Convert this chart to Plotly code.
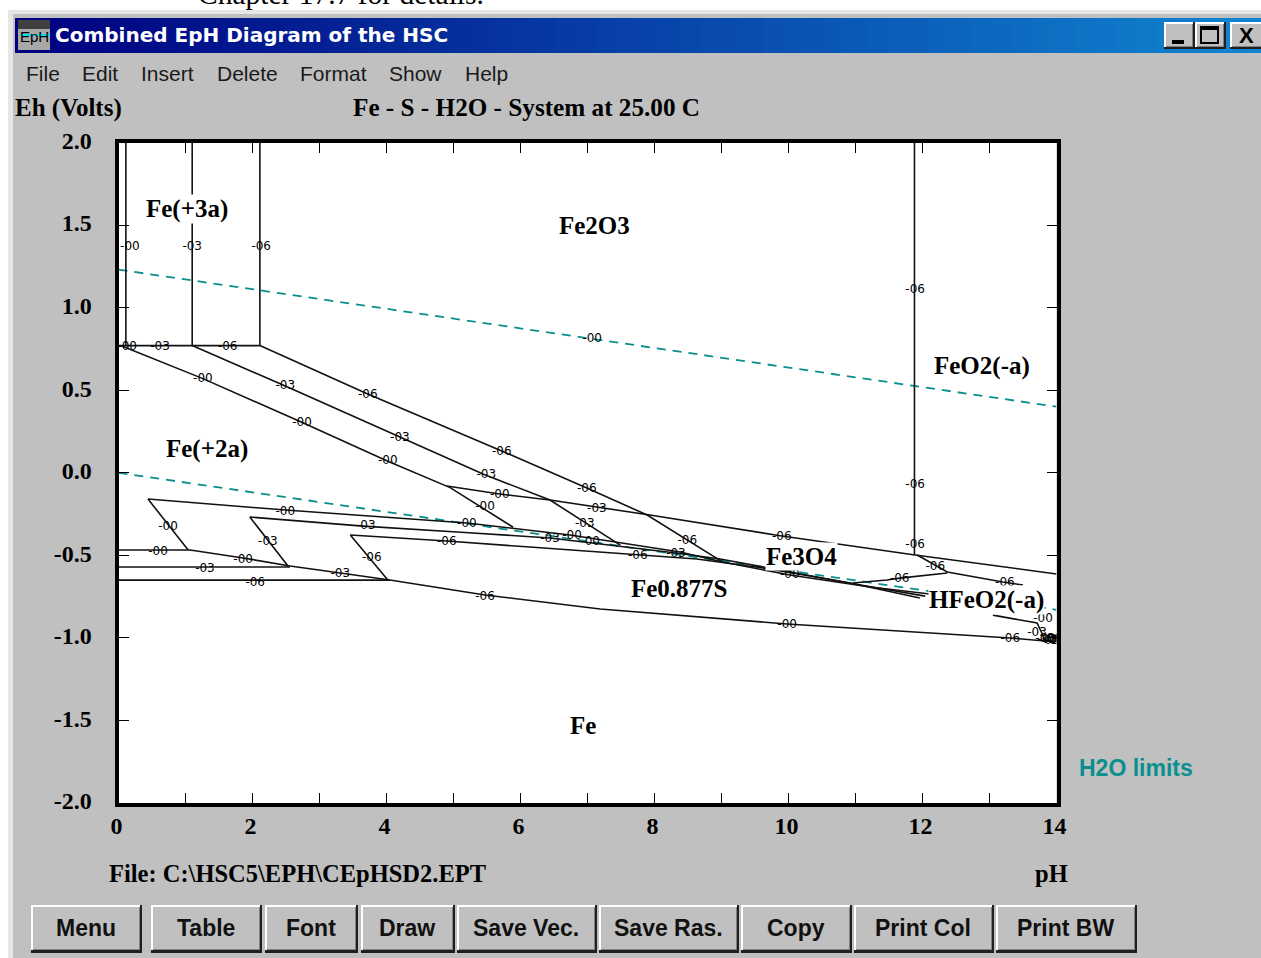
import plotly.graph_objects as go

# ---------- data (pH, Eh in volts) ----------
ph_ticks = list(range(0, 15))
ph_ticktext = ["0", "", "2", "", "4", "", "6", "", "8", "", "10", "", "12", "", "14"]
eh_ticks = [2.0, 1.5, 1.0, 0.5, 0.0, -0.5, -1.0, -1.5, -2.0]
eh_ticktext = ["2.0", "1.5", "1.0", "0.5", "0.0", "-0.5", "-1.0", "-1.5", "-2.0"]

water_upper_ph = [0, 14]
water_upper_eh = [1.23, 0.40]
water_lower_ph = [0, 14]
water_lower_eh = [0.0, -0.83]

v1_ph = [0.11, 0.11]; v1_eh = [2.0, 0.77]
v2_ph = [1.10, 1.10]; v2_eh = [2.0, 0.77]
v3_ph = [2.11, 2.11]; v3_eh = [2.0, 0.77]
v4_ph = [11.88, 11.88]; v4_eh = [2.0, -0.498]
h_top_ph = [0, 2.11]; h_top_eh = [0.77, 0.77]

d1_ph = [0.03, 1.26, 2.71, 4.02, 4.95, 5.89]
d1_eh = [0.77, 0.57, 0.31, 0.07, -0.09, -0.33]
d2_ph = [1.10, 2.49, 4.20, 5.44, 6.44, 7.49]
d2_eh = [0.77, 0.525, 0.217, -0.008, -0.165, -0.438]
d3_ph = [2.11, 3.72, 5.72, 6.99, 7.89, 8.50, 9.02]
d3_eh = [0.77, 0.477, 0.132, -0.092, -0.256, -0.408, -0.541]

a_ph = [0.44, 2.49, 5.20, 6.74, 8.38, 9.02, 10.02, 11.22, 12.11]
a_eh = [-0.159, -0.226, -0.304, -0.377, -0.480, -0.541, -0.619, -0.692, -0.734]
b_ph = [1.96, 3.65, 5.17, 6.44, 8.32, 8.98, 11.07, 12.04]
b_eh = [-0.268, -0.323, -0.362, -0.395, -0.486, -0.522, -0.680, -0.747]
c_ph = [3.46, 4.90, 6.14, 7.75, 8.63, 9.62, 10.92, 11.96]
c_eh = [-0.377, -0.413, -0.450, -0.498, -0.522, -0.577, -0.668, -0.759]

upper_ph = [4.90, 5.69, 6.44, 7.93, 9.90, 11.89, 14.0]
upper_eh = [-0.080, -0.129, -0.165, -0.256, -0.383, -0.498, -0.613]

lower_ph = [0, 1.07, 1.86, 2.56, 3.31, 4.05, 5.47, 7.19, 9.98, 13.31, 13.83, 14.0]
lower_eh = [-0.468, -0.468, -0.516, -0.565, -0.607, -0.650, -0.740, -0.825, -0.916, -1.001, -1.019, -1.02]
h2_ph = [0, 2.56]; h2_eh = [-0.571, -0.571]
h3_ph = [0, 4.05]; h3_eh = [-0.650, -0.650]

s1_ph = [0.44, 1.04]; s1_eh = [-0.159, -0.468]
s2_ph = [1.96, 2.53]; s2_eh = [-0.268, -0.565]
s3_ph = [3.46, 4.02]; s3_eh = [-0.377, -0.650]

r1_ph = [11.92, 12.37, 13.20, 13.50]; r1_eh = [-0.498, -0.601, -0.662, -0.680]
r2_ph = [10.96, 11.47, 11.66, 12.37]; r2_eh = [-0.668, -0.650, -0.638, -0.607]
r3_ph = [13.05, 13.71, 13.83]; r3_eh = [-0.862, -0.910, -1.013]

solid_lines = [
    (v1_ph, v1_eh), (v2_ph, v2_eh), (v3_ph, v3_eh), (v4_ph, v4_eh), (h_top_ph, h_top_eh),
    (d1_ph, d1_eh), (d2_ph, d2_eh), (d3_ph, d3_eh), (a_ph, a_eh), (b_ph, b_eh), (c_ph, c_eh),
    (upper_ph, upper_eh), (lower_ph, lower_eh), (h2_ph, h2_eh), (h3_ph, h3_eh),
    (s1_ph, s1_eh), (s2_ph, s2_eh), (s3_ph, s3_eh), (r1_ph, r1_eh), (r2_ph, r2_eh), (r3_ph, r3_eh),
]

conc00_ph = [0.17, 7.07, 0.13, 1.26, 2.74, 4.02, 0.74, 2.49, 0.59, 1.86, 5.20, 5.69, 5.47, 6.77, 7.04, 10.02, 9.98, 13.80, 13.83, 13.94]
conc00_eh = [1.37, 0.81, 0.76, 0.565, 0.30, 0.07, -0.33, -0.235, -0.48, -0.53, -0.31, -0.135, -0.21, -0.385, -0.42, -0.62, -0.925, -0.885, -1.005, -1.015]
conc03_ph = [1.10, 0.62, 2.49, 4.20, 5.49, 2.23, 3.69, 1.29, 3.31, 6.44, 7.14, 6.96, 8.32, 13.71, 13.90, 13.86]
conc03_eh = [1.37, 0.76, 0.525, 0.21, -0.015, -0.42, -0.325, -0.58, -0.615, -0.40, -0.22, -0.31, -0.495, -0.97, -1.02, -1.01]
conc06_ph = [2.13, 11.89, 11.89, 11.89, 1.63, 3.72, 5.72, 6.99, 3.78, 4.90, 2.04, 5.47, 7.75, 9.90, 8.49, 11.66, 12.19, 13.23, 13.31, 13.93, 13.97]
conc06_eh = [1.37, 1.105, -0.075, -0.44, 0.76, 0.47, 0.125, -0.10, -0.515, -0.42, -0.665, -0.75, -0.505, -0.39, -0.415, -0.645, -0.57, -0.67, -1.008, -1.008, -1.02]

species = ["Fe(+3a)", "Fe2O3", "FeO2(-a)", "Fe(+2a)", "Fe3O4", "Fe0.877S", "HFeO2(-a)", "Fe"]
species_ph = [1.02, 7.10, 12.89, 1.32, 10.19, 8.38, 12.96, 6.93]
species_eh = [1.597, 1.495, 0.647, 0.144, -0.510, -0.698, -0.771, -1.529]

menu_items = ["File", "Edit", "Insert", "Delete", "Format", "Show", "Help"]
button_labels = ["Menu", "Table", "Font", "Draw", "Save Vec.", "Save Ras.", "Copy", "Print Col", "Print BW"]

# ---------- style / layout ----------
W, H = 1261, 958
GREY = "#c0c0c0"
TEAL = "#0a8f8f"
SERIF = "Liberation Serif"
SANS = "Liberation Sans"
def X(p): return p / W
def Y(p): return 1 - p / H

shapes, annos = [], []

def rect(x0, y0, x1, y1, fill, line=None, lw=0):
    shapes.append(dict(type="rect", xref="paper", yref="paper", x0=X(x0), x1=X(x1), y0=Y(y0), y1=Y(y1),
                       fillcolor=fill, line=dict(color=line or fill, width=lw), layer="below"))

def txt(x, y, s, size, color="black", family=SERIF, bold=False, xanchor="center", yanchor="middle"):
    annos.append(dict(xref="paper", yref="paper", x=X(x), y=Y(y), text=f"<b>{s}</b>" if bold else s,
                      showarrow=False, xanchor=xanchor, yanchor=yanchor,
                      font=dict(family=family, size=size, color=color), borderpad=0, borderwidth=0))

def raised(x0, y0, x1, y1, sx=2, sy=3):
    rect(x0, y0, x1, y1, "#202020")
    rect(x0, y0, x1 - sx, y1 - sy, "#ffffff")
    rect(x0 + 2, y0 + 2, x1 - sx, y1 - sy, "#808080")
    rect(x0 + 2, y0 + 2, x1 - sx - 1, y1 - sy - 1, GREY)

# outer page: white strips and light window border
rect(0, 0, W, 10, "#ffffff")
rect(0, 0, 8, H, "#ffffff")
rect(8, 10, W, 14, "#e6e6e6")
rect(8, 10, 13, H, "#e6e6e6")

# title bar gradient
n = 60
c0, c1 = (0, 0, 128), (16, 132, 208)
for i in range(n):
    t = i / (n - 1)
    col = "rgb(%d,%d,%d)" % tuple(round(a + (b - a) * t) for a, b in zip(c0, c1))
    rect(15 + (W - 15) * i / n, 18, 15 + (W - 15) * (i + 1) / n + 1, 53, col)

# icon
rect(18, 20, 50, 50, "#a8a8a8")
rect(18, 20, 50, 29, "#404040")
txt(34, 36, "EpH", 15, family=SANS, color="black")
rect(20, 34, 50, 36, "#00e0f0")

# window buttons
raised(1164, 22, 1195, 49, 2, 2)
rect(1172, 40, 1184, 44, "#000000")
raised(1195, 22, 1226, 49, 2, 2)
shapes.append(dict(type="rect", xref="paper", yref="paper", x0=X(1201), x1=X(1218), y0=Y(27), y1=Y(43),
                   fillcolor=GREY, line=dict(color="black", width=2), layer="below"))
rect(1201, 26, 1218, 30, "#000000")
raised(1230, 22, 1264, 49, 2, 2)
txt(1246, 35, "X", 22, family=SANS, bold=True)

txt(55, 35, "Combined EpH Diagram of the HSC", 20, "white", family="DejaVu Sans", bold=True, xanchor="left")
txt(198, 10, "Chapter 17.7 for details.", 29.5, family=SERIF, xanchor="left", yanchor="bottom")

# menu
menu_cx = [43, 100, 167, 247, 333, 415, 486]
for name, cx in zip(menu_items, menu_cx):
    txt(cx, 73, name, 21, "#1a1a1a", family=SANS)

# headings around the plot
txt(15, 108, "Eh (Volts)", 25, bold=True, xanchor="left")
txt(526, 108, "Fe - S - H2O - System at 25.00 C", 25.2, bold=True)
txt(109, 873, "File: C:\\HSC5\\EPH\\CEpHSD2.EPT", 24.5, bold=True, xanchor="left")
txt(1051, 873, "pH", 24.5, bold=True)
txt(1136, 768, "H2O limits", 23, TEAL, family=SANS, bold=True)

# bottom buttons
button_edges = [(31, 142), (151, 262), (265, 358), (361, 455), (457, 597), (599, 739), (741, 852), (854, 994), (996, 1137)]
for label, (l, r) in zip(button_labels, button_edges):
    raised(l, 905, r, 953)
    txt((l + r) / 2 - 1, 928, label, 23, "#111111", family=SANS, bold=True)

# species labels inside the axes (white box cuts the lines behind them)
for s, xv, yv in zip(species, species_ph, species_eh):
    annos.append(dict(xref="x", yref="y", x=xv, y=yv, text=f"<b>{s}</b>", showarrow=False,
                      font=dict(family=SERIF, size=25, color="black"), bgcolor="white", borderpad=0))

fig = go.Figure()
fig.add_trace(go.Scatter(x=water_upper_ph, y=water_upper_eh, mode="lines",
                         line=dict(color=TEAL, width=1.8, dash="9px,7px")))
fig.add_trace(go.Scatter(x=water_lower_ph, y=water_lower_eh, mode="lines",
                         line=dict(color=TEAL, width=1.8, dash="9px,7px")))
for px_, py_ in solid_lines:
    fig.add_trace(go.Scatter(x=px_, y=py_, mode="lines", line=dict(color="#111111", width=1.6)))
for tag, xs, ys in [("-00", conc00_ph, conc00_eh), ("-03", conc03_ph, conc03_eh), ("-06", conc06_ph, conc06_eh)]:
    fig.add_trace(go.Scatter(x=xs, y=ys, mode="text", text=[tag] * len(xs), textposition="middle center",
                             textfont=dict(family="DejaVu Sans", size=12, color="black"), cliponaxis=True))

axis_common = dict(showgrid=False, zeroline=False, showline=True, linecolor="black", linewidth=4,
                   mirror="ticks", ticks="inside", ticklen=10, tickwidth=1.2, tickcolor="black",
                   tickfont=dict(family=SERIF, size=24, color="black", weight="bold"), tickmode="array")
fig.update_layout(
    width=W, height=H, margin=dict(l=0, r=0, t=0, b=0, autoexpand=False), showlegend=False,
    paper_bgcolor=GREY, plot_bgcolor="white", shapes=shapes, annotations=annos,
    xaxis=dict(domain=[X(118.5), X(1056.5)], range=[0, 14], tickvals=ph_ticks, ticktext=ph_ticktext,
               ticklabelstandoff=-2, ticklabelshift=-2, **axis_common),
    yaxis=dict(domain=[Y(803), Y(142.5)], range=[-2, 2], tickvals=eh_ticks, ticktext=eh_ticktext,
               ticklabelstandoff=18, ticklabelshift=-2, **axis_common),
)
fig.write_html("out.html", config=dict(displayModeBar=False),
               post_script="document.body.style.margin='0';")
